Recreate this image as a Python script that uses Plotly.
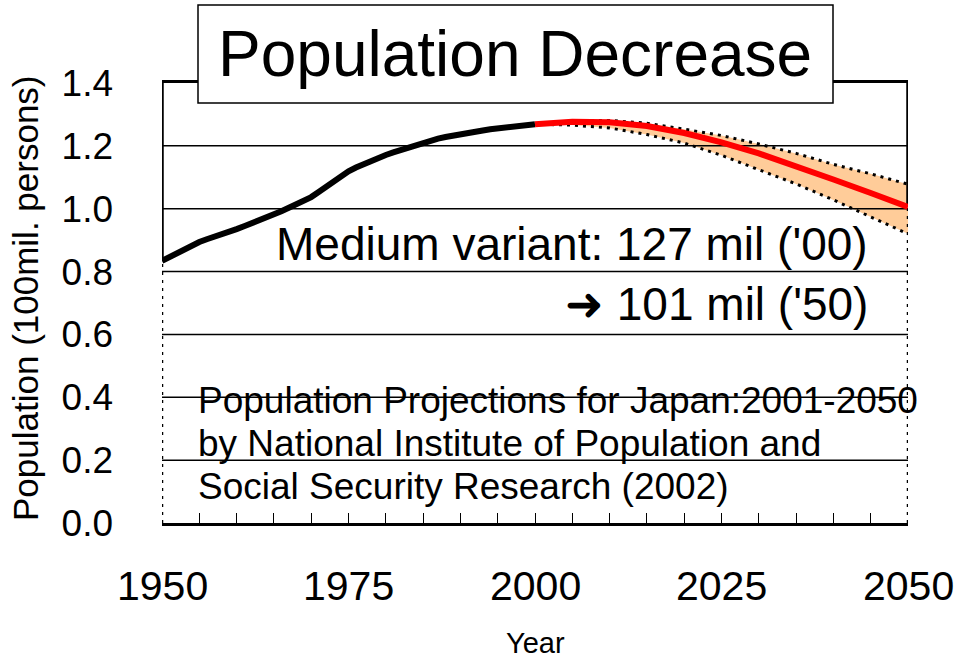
import plotly.graph_objects as go

# Japan total population, 1950-2000 (unit: 100 million persons)
hist_years = list(range(1950, 2001))
hist_pop = [0.834, 0.847, 0.860, 0.871, 0.883, 0.894, 0.903, 0.910, 0.919, 0.927,
            0.935, 0.944, 0.953, 0.963, 0.973, 0.984, 0.992, 1.003, 1.014, 1.025,
            1.037, 1.053, 1.069, 1.088, 1.105, 1.119, 1.131, 1.142, 1.152, 1.161,
            1.171, 1.179, 1.187, 1.195, 1.203, 1.210, 1.217, 1.223, 1.228, 1.233,
            1.236, 1.241, 1.246, 1.249, 1.253, 1.256, 1.259, 1.262, 1.265, 1.267,
            1.269]

# Projections 2000-2050 (IPSS 2002): medium, high and low variants
proj_years = [2000, 2005, 2010, 2015, 2020, 2025, 2030, 2035, 2040, 2045, 2050]
medium = [1.269, 1.277, 1.275, 1.263, 1.241, 1.211, 1.176, 1.136, 1.093, 1.050, 1.006]
high = [1.269, 1.279, 1.281, 1.272, 1.253, 1.233, 1.206, 1.176, 1.141, 1.111, 1.078]
low = [1.269, 1.266, 1.257, 1.236, 1.209, 1.170, 1.124, 1.079, 1.028, 0.975, 0.920]

x_ticks = [1950, 1975, 2000, 2025, 2050]
y_ticks = [0.0, 0.2, 0.4, 0.6, 0.8, 1.0, 1.2, 1.4]

X0, X1 = x_ticks[0], x_ticks[-1]
Y0, Y1 = y_ticks[0], y_ticks[-1]

FONT = "Liberation Sans, Arial, sans-serif"
DOT = "3px,5px"

# plot area in pixels: left 162, width 746, bottom 523, height 440
PL, PW, PB, PH = 162, 746, 523, 440


def px(x):
    return (x - PL) / PW


def py(y):
    return (PB - y) / PH


fig = go.Figure()

# projection range band (high / low variants)
fig.add_trace(go.Scatter(x=proj_years, y=high, mode="lines",
                         line=dict(color="black", width=3, dash=DOT),
                         hoverinfo="skip"))
fig.add_trace(go.Scatter(x=proj_years, y=low, mode="lines", fill="tonexty",
                         fillcolor="rgb(255,204,153)",
                         line=dict(color="black", width=3, dash=DOT),
                         hoverinfo="skip"))

# horizontal grid lines drawn over the band
gx, gy = [], []
for v in y_ticks[1:-1]:
    gx += [X0, X1, None]
    gy += [v, v, None]
fig.add_trace(go.Scatter(x=gx, y=gy, mode="lines",
                         line=dict(color="black", width=1.5), hoverinfo="skip"))

# frame sides: dotted below the curve ends, solid above
fig.add_trace(go.Scatter(x=[X0, X0, None, X1, X1], y=[Y0, hist_pop[0], None, Y0, medium[-1]],
                         mode="lines", line=dict(color="black", width=2.5, dash=DOT),
                         hoverinfo="skip"))
fig.add_trace(go.Scatter(x=[X0, X0, None, X1, X1], y=[hist_pop[0], Y1, None, medium[-1], Y1],
                         mode="lines", line=dict(color="black", width=3.5),
                         hoverinfo="skip"))

# actual population and medium variant
fig.add_trace(go.Scatter(x=hist_years, y=hist_pop, mode="lines",
                         line=dict(color="black", width=6), hoverinfo="skip"))
fig.add_trace(go.Scatter(x=proj_years, y=medium, mode="lines",
                         line=dict(color="rgb(255,0,0)", width=6), hoverinfo="skip"))

fig.update_layout(
    width=958, height=663,
    margin=dict(l=PL, r=958 - PL - PW, t=83, b=140),
    paper_bgcolor="white", plot_bgcolor="white",
    showlegend=False,
    font=dict(family=FONT, color="black"),
    xaxis=dict(range=[X0, X1], tickvals=x_ticks, showticklabels=False,
               showgrid=False, zeroline=False, automargin=False,
               showline=True, linecolor="black", linewidth=3, mirror=True,
               ticks="inside", ticklen=10, tickwidth=1, tickcolor="black",
               minor=dict(dtick=5, ticks="inside", ticklen=10, tickwidth=1,
                          tickcolor="black", showgrid=False)),
    yaxis=dict(range=[Y0, Y1], tickvals=y_ticks, ticktext=[f"{v:.1f}" for v in y_ticks],
               showgrid=False, zeroline=False, showline=False, automargin=False,
               ticks="", ticklabelstandoff=48,
               tickfont=dict(size=37, family=FONT)),
)

# year labels under the axis
for yr in x_ticks:
    fig.add_annotation(text=str(yr), xref="x", yref="paper",
                       x=yr, y=py(586), showarrow=False,
                       xanchor="center", yanchor="middle",
                       font=dict(size=41, family=FONT, color="black"))

# title box
fig.add_shape(type="rect", xref="paper", yref="paper",
              x0=px(198), x1=px(833), y0=py(103), y1=py(5),
              fillcolor="white", line=dict(color="black", width=1.5), layer="above")
fig.add_annotation(text="Population Decrease", xref="paper", yref="paper",
                   x=px(515), y=py(54), showarrow=False,
                   xanchor="center", yanchor="middle",
                   font=dict(size=64, family=FONT, color="black"))

# value notes
fig.add_annotation(text="Medium variant: 127 mil ('00)", xref="paper", yref="paper",
                   x=px(870), y=py(244), showarrow=False,
                   xanchor="right", yanchor="middle",
                   font=dict(size=46, family=FONT, color="black"))
fig.add_annotation(text="➜ 101 mil ('50)", xref="paper", yref="paper",
                   x=px(870), y=py(304), showarrow=False,
                   xanchor="right", yanchor="middle",
                   font=dict(size=46, family=FONT, color="black"))

# source notes
source_lines = ["Population Projections for Japan:2001-2050",
                "by National Institute of Population and",
                "Social Security Research (2002)"]
for i, line in enumerate(source_lines):
    fig.add_annotation(text=line, xref="paper", yref="paper",
                       x=px(196), y=py(400 + 43 * i),
                       showarrow=False, xanchor="left", yanchor="middle",
                       font=dict(size=37, family=FONT, color="black"))

# axis titles
fig.add_annotation(text="Year", xref="paper", yref="paper",
                   x=px(535), y=py(661), showarrow=False,
                   xanchor="center", yanchor="bottom",
                   font=dict(size=29, family=FONT, color="black"))
fig.add_annotation(text="Population (100mil. persons)", xref="paper", yref="paper",
                   x=px(25), y=py(298), showarrow=False,
                   xanchor="center", yanchor="middle", textangle=-90,
                   font=dict(size=35, family=FONT, color="black"))

fig.write_html("out.html")
